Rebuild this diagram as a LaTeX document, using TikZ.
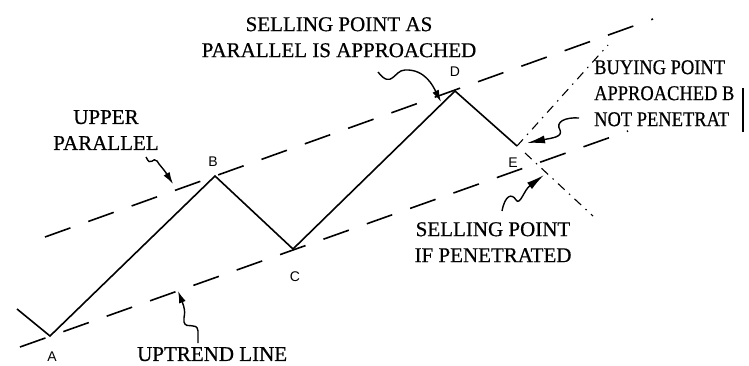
\documentclass[tikz,border=0pt]{standalone}
\usepackage{fontspec}
\setmainfont{Liberation Serif}[FakeBold=0.6]
\newfontfamily\lblfont{Liberation Sans}
\usetikzlibrary{arrows.meta}
\begin{document}
\begin{tikzpicture}[x=1pt,y=-1pt,
  pricel/.style={line width=1.6pt, line join=miter},
  trendl/.style={line width=1.6pt, dash pattern=on 27pt off 19pt},
  dashdot/.style={line width=1.1pt, dash pattern=on 9pt off 6pt on 1.5pt off 6pt},
  squig/.style={line width=1.4pt, -{Latex[length=12pt,width=7pt]}},
  bigsquig/.style={line width=1.4pt, -{Latex[length=18pt,width=8pt]}},
  lbl/.style={font=\fontsize{21}{26}\selectfont, inner sep=0pt, align=center},
  ptlbl/.style={font=\lblfont\fontsize{14}{14}\selectfont, inner sep=0pt}]
\useasboundingbox (0,0) rectangle (749,366);
\clip (0,0) rectangle (749,366);

% price path points
\coordinate (S) at (17,309);
\coordinate (A) at (50,336);
\coordinate (B) at (215,176);
\coordinate (C) at (293,249);
\coordinate (D) at (455,91);
\coordinate (E) at (517,146);

% trend lines
\coordinate (U1) at (45,237);
\coordinate (U2) at (653,19);
\coordinate (L1) at (20,347);
\coordinate (L2) at (628,131);
\draw[trendl] (U1) -- (U2);
\draw[trendl] (L1) -- (L2);

% dash-dot projections from E
\coordinate (P1) at (608,45);
\coordinate (Q0) at (525,153);
\coordinate (Q1) at (593,216);
\draw[dashdot] (E) -- (P1);
\draw[dashdot] (Q0) -- (Q1);

% price line
\draw[pricel] (S) -- (A) -- (B) -- (C) -- (D) -- (E);

% point labels
\node[ptlbl] (la) at (52,357) {A};
\node[ptlbl] (lb) at (213,162) {B};
\node[ptlbl] (lc) at (295,277) {C};
\node[ptlbl] (ld) at (455,72) {D};
\node[ptlbl] (le) at (513,163) {E};

% texts
\node[lbl, anchor=north] (tsell) at (339,17) {SELLING POINT AS\\PARALLEL IS APPROACHED};
\node[lbl, anchor=north] (tupper) at (106,110) {UPPER\\PARALLEL};
\node[lbl, anchor=north west] (tup) at (137,347) {UPTREND LINE};
\node[lbl, anchor=north] (tpen) at (493,222) {SELLING POINT\\IF PENETRATED};
\node[lbl, align=left, anchor=north west] (tbuy) at (594,60)
  {\scalebox{0.88}[1]{BUYING POINT}\\\scalebox{0.88}[1]{APPROACHED B}\\\scalebox{0.88}[1]{NOT PENETRAT}};
\coordinate (bar1) at (743,88);
\coordinate (bar2) at (743,132);
\draw[line width=1.8pt] (bar1) -- (bar2);

% squiggly arrows
\coordinate (a1s) at (146,157);
\coordinate (a1t) at (173,184);
\draw[squig] (a1s) .. controls (151,168) and (153,156) .. (157,161)
  .. controls (160,166) and (163,168) .. (a1t);

\coordinate (a2s) at (378,72);
\coordinate (a2t) at (441,102);
\draw[squig] (a2s) .. controls (392,90) and (394,70) .. (405,70)
  .. controls (425,69) and (433,86) .. (a2t);

\coordinate (a3s) at (579,118);
\coordinate (a3t) at (527,143);
\draw[bigsquig] (a3s) .. controls (565,117) and (555,122) .. (560,130)
  .. controls (563,137) and (552,138) .. (a3t);

\coordinate (a4s) at (502,211);
\coordinate (a4t) at (544,175);
\draw[bigsquig] (a4s) .. controls (505,195) and (512,193) .. (516,200)
  .. controls (520,206) and (524,190) .. (a4t);

\coordinate (a5s) at (198,343);
\coordinate (a5t) at (178,291);
\draw[squig] (a5s) -- (198,331) .. controls (197,321) and (186,330) .. (184,322)
  .. controls (183,316) and (187,314) .. (a5t);
\end{tikzpicture}
\end{document}
